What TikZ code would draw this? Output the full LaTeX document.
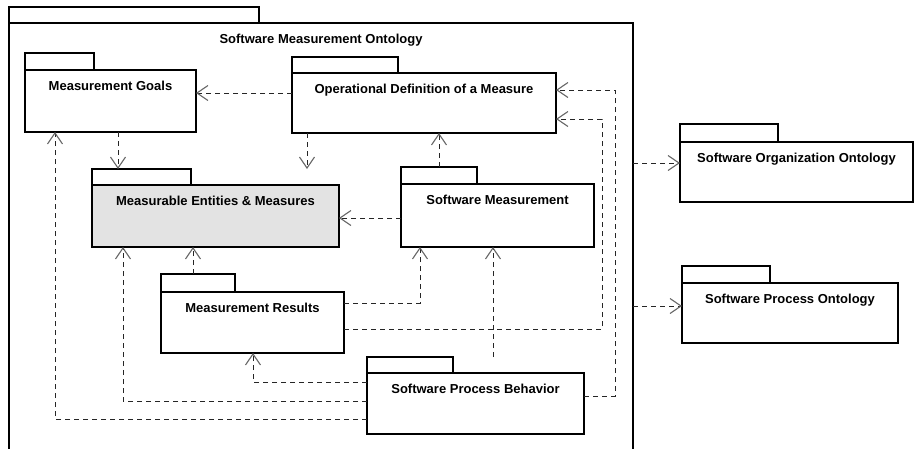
\documentclass[tikz,border=0pt]{standalone}
\usepackage{fontspec}
\setmainfont{Liberation Sans}
\usetikzlibrary{arrows.meta}

% UML package: tab + body + centred title.
% #1 fill, #2 name, #3 left x, #4 tab right x, #5 tab top y,
% #6 body top y, #7 right x, #8 bottom y, #9 title
\newcommand{\umlpkg}[9][white]{%
  \node[pkgbox, minimum width={#4pt-#3pt}, minimum height={#6pt-#5pt}] (#2tab) at (#3,#5) {};
  \node[pkgbox, fill=#1, minimum width={#7pt-#3pt}, minimum height={#8pt-#6pt}] (#2) at (#3,#6) {};
  \node[pkglabel] (#2txt) at ([yshift=-20pt]#2.north) {#9};
}

\begin{document}
\begin{tikzpicture}[
  x=1pt, y=-1pt,
  pkgbox/.style={draw=black, line width=2pt, fill=white, inner sep=0pt,
                 outer sep=0pt, anchor=north west},
  pkglabel/.style={font=\fontsize{13pt}{15pt}\selectfont\bfseries,
                   inner sep=0pt, anchor=base},
  dep/.style={draw=black!85, line width=1pt, dash pattern=on 5pt off 4pt,
              -{Straight Barb[length=11pt,width=15pt,line width=1.1pt,color=black!60]}},
]
\useasboundingbox (0,0) rectangle (914,448);
\fill[white] (0,0) rectangle (914,448);
\clip (0,0) rectangle (914,448);

% enclosing package
\umlpkg{outer}{9}{259}{7}{23}{633}{470}{Software Measurement Ontology}

% inner packages
\umlpkg{mg}{25}{94}{53}{70}{196}{132}{Measurement Goals}
\umlpkg{opd}{292}{398}{57}{73}{556}{133}{Operational Definition of a Measure}
\umlpkg[black!11]{mem}{92}{191}{169}{185}{339}{247}{Measurable Entities \& Measures}
\umlpkg{sm}{401}{477}{167}{184}{594}{247}{Software Measurement}
\umlpkg{mr}{161}{235}{274}{292}{344}{353}{Measurement Results}
\umlpkg{spb}{367}{453}{357}{373}{584}{434}{Software Process Behavior}

% external packages
\umlpkg{soo}{680}{778}{124}{142}{913}{202}{Software Organization Ontology}
\umlpkg{spo}{682}{770}{266}{283}{898}{343}{Software Process Ontology}

% dependencies
\draw[dep] (opd.west |- 0,93) -- (mg.east |- 0,93);
\draw[dep] (mg.south -| 118,0) -- (memtab.north -| 118,0);
\draw[dep] (opd.south -| 307,0) -- (memtab.north -| 307,0);
\draw[dep] (sm.west |- 0,218) -- (mem.east |- 0,218);
\draw[dep] (smtab.north -| 439,0) -- (opd.south -| 439,0);
\draw[dep] (mrtab.north -| 193,0) -- (mem.south -| 193,0);
\draw[dep] (mr.east |- 0,303) -| (sm.south -| 420,0);
\draw[dep] (mr.east |- 0,329) -| (602,119) -- (opd.east |- 0,119);
\draw[dep] (spb.west |- 0,382) -| (mr.south -| 253,0);
\draw[dep] (spb.west |- 0,401) -| (mem.south -| 123,0);
\draw[dep] (spb.west |- 0,419) -| (mg.south -| 55,0);
\draw[dep] (spbtab.north -| 493,0) -- (sm.south -| 493,0);
\draw[dep] (spb.east |- 0,396) -| (615,90) -- (opd.east |- 0,90);
\draw[dep] (outer.east |- 0,163) -- (soo.west |- 0,163);
\draw[dep] (outer.east |- 0,306) -- (spo.west |- 0,306);
\end{tikzpicture}
\end{document}
